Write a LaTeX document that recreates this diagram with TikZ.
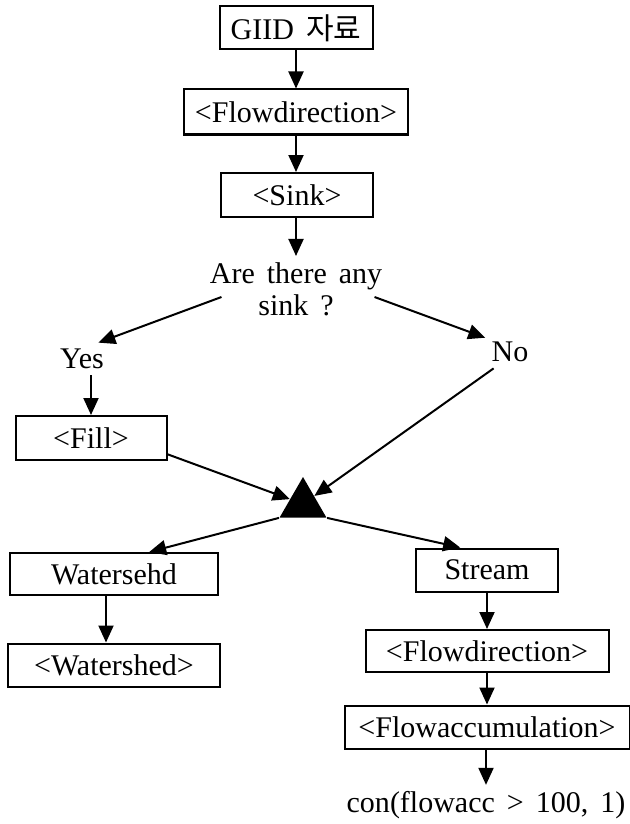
\documentclass[tikz,border=0pt]{standalone}
\usepackage{fontspec}
\setmainfont[WordSpace=1.6]{Liberation Serif}
\newfontfamily\krfont{Noto Sans CJK KR}
\usetikzlibrary{arrows.meta,shapes.geometric}

\tikzset{
  box/.style={draw, line width=1pt, minimum height=21.5pt, inner sep=2pt, font=\fontsize{15}{16}\selectfont},
  txt/.style={inner sep=3pt, align=center, font=\fontsize{15}{16}\selectfont},
  arr/.style={line width=1pt, -{Triangle[length=8.5pt,width=7.5pt]}},
}

\begin{document}
\begin{tikzpicture}[x=0.5pt, y=-0.5pt]
    \useasboundingbox (0,0) rectangle (630,824);

    \node (giid) at (296,28) [box, minimum width=76.5pt] {GIID {\krfont 자료}};
    \node (fdir) at (296,112) [box, minimum width=112pt, minimum height=22.5pt] {<Flowdirection>};
    \node (sink) at (297,195) [box, minimum width=76pt, minimum height=22pt] {<Sink>};
    \node (quest) at (296,289) [txt] {Are there any\\sink ?};

    \node (yes) at (82,359) [txt] {Yes};
    \node (no) at (510,352) [txt] {No};
    \node (fill) at (91,438) [box, minimum width=75.5pt, minimum height=22pt] {<Fill>};

    \node (tri) at (303,504) [regular polygon, regular polygon sides=3, minimum size=27pt, inner sep=0pt, fill=black] {};

    \node (wsa) at (114,574) [box, minimum width=104pt, minimum height=21pt] {Watersehd};
    \node (wsb) at (114,665) [box, minimum width=106pt] {<Watershed>};
    \node (strm) at (487,570) [box, minimum width=71pt] {Stream};
    \node (fdirb) at (487,651) [box, minimum width=121.5pt, minimum height=21pt] {<Flowdirection>};
    \node (facc) at (487,727) [box, minimum width=142.5pt] {<Flowaccumulation>};
    \node (con) at (486,805) [txt] {con(flowacc > 100, 1)};

    \draw [arr] (giid) -- (fdir);
    \draw [arr] (fdir) -- (sink.north -| fdir);
    \draw [arr] (sink.south -| quest) -- (quest);
    \draw [arr] ([shift={(18,8)}]quest.west) -- (yes.45);
    \draw [arr] ([shift={(-14,8)}]quest.east) -- (no.150);
    \draw [arr] (yes.south -| fill) -- (fill.north);
    \draw [arr] (fill.-12) -- (tri);
    \draw [arr] (no.225) -- (tri);
    \draw [arr] (tri.corner 2) -- (wsa.32);
    \draw [arr] (tri.corner 3) -- (strm.140);
    \draw [arr] ([xshift=-4pt]wsa.south) -- ([xshift=-4pt]wsb.north);
    \draw [arr] (strm) -- (fdirb);
    \draw [arr] (fdirb) -- (facc);
    \draw [arr] (facc.south -| con) -- (con);
\end{tikzpicture}
\end{document}
